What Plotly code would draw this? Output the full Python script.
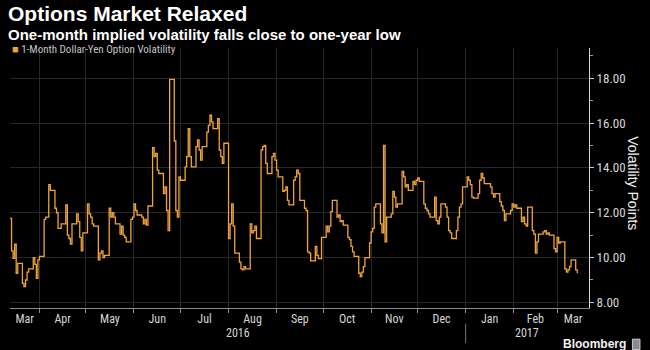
import pandas as pd
import plotly.graph_objects as go

# 1-month USD/JPY implied volatility, business-day closes from 11 Mar 2016
vol_values = [
    11.75,
    10.3, 9.96, 10.6, 9.3, 9.74,
    8.85, 8.7, 9.0, 9.35, 9.5,
    10.0, 9.7, 9.07, 9.9, 10.05,
    11.7, 11.8, 11.8, 13.25, 13.0,
    12.2, 12.0, 11.3, 11.3, 11.5,
    12.35, 11.0, 10.85, 10.6, 11.5,
    11.95, 11.6, 10.9, 10.3, 11.1,
    12.4, 11.95, 11.8, 11.5, 11.4,
    9.9, 10.2, 10.3, 10.0, 10.1,
    12.2, 11.8, 12.0, 11.8, 11.5,
    11.05, 11.4, 11.0, 10.9, 10.7,
    11.7, 11.8, 12.4, 12.1, 11.9,
    11.8, 11.5, 11.7, 11.45, 12.3,
    14.9, 14.5, 14.65, 13.9, 13.75,
    12.85, 13.15, 12.1, 11.2, 17.95,
    15.2, 12.1, 11.8, 13.6, 13.45,
    14.05, 14.5, 15.75, 14.5, 14.05,
    14.95, 15.25, 14.8, 14.35, 14.95,
    15.6, 15.9, 16.35, 16.05, 15.75,
    16.2, 14.8, 14.5, 14.2, 15.1,
    10.85, 11.5, 12.4, 11.4, 10.2,
    9.8, 9.5, 9.45, 9.6, 9.5,
    11.5, 11.1, 11.2, 11.4, 10.85,
    14.8, 14.95, 15.0, 14.2, 13.75,
    14.5, 14.65, 14.35, 13.9, 13.6,
    12.95, 13.0, 13.15, 12.55, 12.35,
    13.45, 13.6, 13.9, 13.75, 12.55,
    12.2, 12.1, 10.25, 10.2, 9.85,
    10.5, 10.1, 9.95, 9.95, 10.9,
    11.4, 11.15, 11.4, 12.05, 12.55,
    11.8, 11.9, 11.6, 11.65, 11.45,
    10.9, 10.8, 10.5, 10.25, 10.05,
    9.3, 9.15, 9.35, 9.6, 10.0,
    10.65, 11.15, 11.3, 12.25, 12.4,
    11.5, 11.1, 15.0, 10.7, 11.8,
    11.95, 12.95, 12.7, 12.25, 12.4,
    13.85, 13.6, 13.15, 13.25, 13.0,
    13.4, 13.25, 13.45, 13.55, 13.4,
    12.4, 12.2, 12.1, 11.95, 11.8,
    12.7, 11.65, 11.5, 11.8, 12.4,
    12.25, 11.8, 11.2, 11.1, 10.85,
    11.2, 11.8, 12.25, 12.4, 13.15,
    13.6, 13.45, 13.25, 12.7, 12.65,
    12.85, 13.45, 13.75, 13.55, 13.3,
    13.3, 13.15, 12.85, 12.7, 12.85,
    12.5, 12.3, 12.1, 11.65, 11.95,
    12.1, 12.4, 12.25, 12.35, 12.2,
    11.6, 11.8, 11.5, 11.4, 12.25,
    11.2, 11.05, 10.2, 10.7, 11.05,
    11.15, 11.2, 11.05, 11.1, 11.0,
    10.4, 10.25, 10.9, 10.65, 10.7,
    9.5, 9.35, 9.45, 9.6, 9.9,
    9.45, 9.3,
]
first_date = "2016-03-11"

month_labels = ["Mar", "Apr", "May", "Jun", "Jul", "Aug", "Sep",
                "Oct", "Nov", "Dec", "Jan", "Feb", "Mar"]
year_labels = ["2016", "2017"]
y_ticks = [8, 10, 12, 14, 16, 18]

series_name = "1-Month Dollar-Yen Option Volatility"
title_text = "Options Market Relaxed"
subtitle_text = "One-month implied volatility falls close to one-year low"
y_title = "Volatility Points"

dates = pd.bdate_range(first_date, periods=len(vol_values))

# visible window of the time axis
x_lo = pd.Timestamp("2016-03-13")
x_hi = pd.Timestamp("2017-03-21 14:00")

# month boundaries (ticks + grid) and labels centred in each visible month
month_starts = pd.date_range("2016-04-01", "2017-03-01", freq="MS")
edges = [x_lo] + list(month_starts) + [x_hi]
label_pos = [a + (b - a) / 2 for a, b in zip(edges[:-1], edges[1:])]
year_break = pd.Timestamp("2017-01-01")
year_pos = [x_lo + (year_break - x_lo) / 2, year_break + (x_hi - year_break) / 2]

BG = "#000000"
LINE = "#eea43a"
GRID = "#272727"
TXT = "#d6d6d6"
NARROW = "Liberation Sans Narrow, Roboto Condensed, Arial Narrow, Roboto, sans-serif"
BOLD = "Liberation Sans, Arial, sans-serif"

fig = go.Figure()
fig.add_trace(go.Scatter(
    x=dates, y=vol_values, mode="lines", name=series_name,
    line=dict(color=LINE, width=1.3, shape="hv"),
    showlegend=False, hoverinfo="skip",
))

fig.update_layout(
    width=650, height=350,
    margin=dict(l=10, r=61, t=48, b=42),
    paper_bgcolor=BG, plot_bgcolor=BG,
    xaxis=dict(
        range=[x_lo, x_hi], type="date",
        tickmode="array", tickvals=label_pos, ticktext=month_labels,
        ticks="", showgrid=False, zeroline=False,
        tickfont=dict(family=NARROW, size=12, color=TXT),
        showline=True, linecolor="#8c8c8c", linewidth=1,
        minor=dict(tickmode="array", tickvals=list(month_starts),
                   ticks="outside", ticklen=4, tickcolor="#8c8c8c",
                   showgrid=True, gridcolor=GRID, gridwidth=1),
    ),
    yaxis=dict(
        side="right", range=[7.75, 19.35],
        tickmode="array", tickvals=y_ticks, tickformat=".2f",
        ticks="outside", ticklen=4, tickcolor="#cfcfcf",
        showgrid=True, gridcolor=GRID, gridwidth=1, zeroline=False,
        showline=True, linecolor="#d8d8d8", linewidth=1,
        tickfont=dict(family=NARROW, size=13, color=TXT),
        minor=dict(dtick=1, tick0=7, ticks="outside", ticklen=3,
                   tickcolor="#9a9a9a", showgrid=False),
    ),
    showlegend=False,
)

ann = [
    dict(text="<b>" + title_text + "</b>", x=-0.006, y=1.18,
         font=dict(family=BOLD, size=21, color="#ffffff")),
    dict(text="<b>" + subtitle_text + "</b>", x=-0.006, y=1.09,
         font=dict(family=BOLD, size=15, color="#ffffff")),
    dict(text="<span style='color:" + LINE + "'>■</span> " + series_name,
         x=0.002, y=1.022, font=dict(family=NARROW, size=11, color="#c4c4c4")),
]
for a in ann:
    a.update(xref="paper", yref="paper", xanchor="left", yanchor="top",
             showarrow=False, borderpad=0)
    fig.add_annotation(**a)

fig.add_annotation(text=y_title, xref="paper", yref="paper", x=1.076, y=0.48,
                   textangle=90, showarrow=False, xanchor="center", yanchor="middle",
                   font=dict(family=BOLD, size=14, color="#f0f0f0"))

for pos, txt in zip(year_pos, year_labels):
    fig.add_annotation(text=txt, x=pos, xref="x", yref="paper", y=-0.097,
                       showarrow=False, yanchor="middle",
                       font=dict(family=NARROW, size=12, color=TXT))

fig.add_shape(type="line", xref="x", yref="paper", x0=year_break, x1=year_break,
              y0=-0.06, y1=-0.135, line=dict(color="#7a7a7a", width=1))

fig.add_annotation(text="<b>Bloomberg</b>", xref="paper", yref="paper",
                   x=1.068, y=-0.14, xanchor="right", yanchor="middle",
                   showarrow=False, font=dict(family=BOLD, size=12, color="#f2f2f2"))
fig.add_shape(type="rect", xref="paper", yref="paper",
              x0=1.075, x1=1.088, y0=-0.16, y1=-0.12,
              line=dict(color="#cfcfcf", width=1), fillcolor="#8a8a8a")

fig.write_html("out.html")
